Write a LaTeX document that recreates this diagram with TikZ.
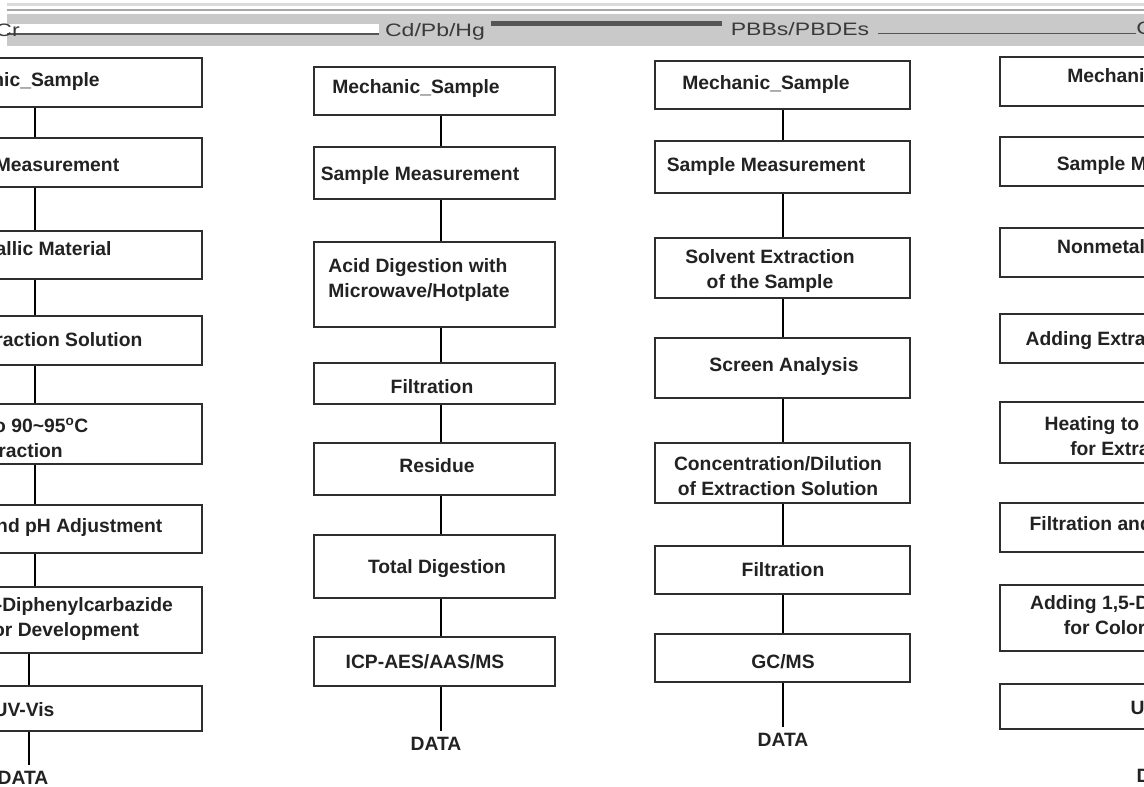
\documentclass[tikz,border=0pt]{standalone}
\usepackage{fontspec}
\setmainfont{Liberation Sans}
\usetikzlibrary{calc}
\definecolor{boxline}{HTML}{2E2E2E}
\definecolor{txtcol}{HTML}{222222}
\definecolor{hdrband}{HTML}{C9C9C9}
\definecolor{hdrlight}{HTML}{DADADA}
\definecolor{hdrdark}{HTML}{555555}
\definecolor{hdrtext}{HTML}{3A3A3A}
\tikzset{
  flowbox/.style={draw=boxline, line width=2pt, fill=white, inner sep=0pt},
  lbl/.style={font=\fontsize{19.3}{25}\selectfont\bfseries, text=txtcol, align=center, inner sep=0pt},
  datalbl/.style={lbl, inner ysep=6pt},
  hdrlbl/.style={font=\fontsize{18}{22}\selectfont, text=hdrtext, inner sep=0pt, xscale=1.28},
  conn/.style={draw=black, line width=1.6pt},
}
\newcommand\flowstep[5]{%
  \node[flowbox, minimum width={(#4)-(#2)}, minimum height={(#5)-(#3)}] (#1) at ({((#2)+(#4))/2},{((#3)+(#5))/2}) {};}
\begin{document}
\begin{tikzpicture}[x=1pt,y=-1pt]
\useasboundingbox (0,0) rectangle (1144,787);
\clip (0,0) rectangle (1144,787);
\fill[white] (0,0) rectangle (1144,787);

% ---------- header ----------
\fill[hdrlight] (7,3) rectangle (1144,6);
\fill[gray!70] (7,9) rectangle (1144,11);
\fill[hdrband] (7,14) rectangle (1144,46);
\fill[white] (7,24) rectangle (379,33);
\draw[hdrdark, line width=1.5pt] (7,34) -- (379,34);
\fill[hdrdark] (491,21) rectangle (722,26);
\draw[hdrdark, line width=1pt] (878,33) -- (1136,33);
\node[hdrlbl, anchor=east] (h1) at (20,30) {Cr};
\node[hdrlbl] (h2) at (435,32) {Cd/Pb/Hg};
\node[hdrlbl] (h3) at (800,29) {PBBs/PBDEs};
\node[hdrlbl, anchor=west] (h4) at (1136,28) {Cr};

% ---------- column 1 (metallic Cr) ----------
\flowstep{b11}{-133}{58}{202}{107}
\flowstep{b12}{-133}{138}{202}{187}
\flowstep{b13}{-133}{231}{202}{279}
\flowstep{b14}{-133}{316}{202}{365}
\flowstep{b15}{-133}{404}{202}{464}
\flowstep{b16}{-133}{505}{202}{553}
\flowstep{b17}{-133}{587}{202}{653}
\flowstep{b18}{-133}{686}{202}{731}
\node[lbl] (b11t) at (16,82) {Mechanic\_Sample};
\node[lbl] (b12t) at (20,167) {Sample Measurement};
\node[lbl] (b13t) at (37,249) {Metallic Material};
\node[lbl] (b14t) at (18,342) {Adding Extraction Solution};
\node[lbl] (b15t) at (0,438) {Heating to 90\textasciitilde 95\textsuperscript{o}C\\for Extraction};
\node[lbl] (b16t) at (30,528) {Filtration and pH Adjustment};
\node[lbl] (b17t) at (35,619) {Adding 1,5-Diphenylcarbazide\\for Color Development};
\node[lbl] (b18t) at (24,710) {UV-Vis};
\node[datalbl] (d1) at (23,778) {DATA};
\coordinate (k1) at (35,0);
\coordinate (k1b) at (29,0);
\draw[conn] (b11.south -| k1) -- (b12.north -| k1);
\draw[conn] (b12.south -| k1) -- (b13.north -| k1);
\draw[conn] (b13.south -| k1) -- (b14.north -| k1);
\draw[conn] (b14.south -| k1) -- (b15.north -| k1);
\draw[conn] (b15.south -| k1) -- (b16.north -| k1);
\draw[conn] (b16.south -| k1) -- (b17.north -| k1);
\draw[conn] (b17.south -| k1b) -- (b18.north -| k1b);
\draw[conn] (b18.south -| k1b) -- (d1.north -| k1b);

% ---------- column 2 (Cd/Pb/Hg) ----------
\flowstep{b21}{314}{67}{555}{115}
\flowstep{b22}{314}{147}{555}{199}
\flowstep{b23}{314}{242}{555}{327}
\flowstep{b24}{314}{363}{555}{404}
\flowstep{b25}{314}{443}{555}{495}
\flowstep{b26}{314}{535}{555}{598}
\flowstep{b27}{314}{637}{555}{686}
\node[lbl] (b21t) at (416,89) {Mechanic\_Sample};
\node[lbl] (b22t) at (420,176) {Sample Measurement};
\node[lbl, align=left] (b23t) at (419,280) {Acid Digestion with\\Microwave/Hotplate};
\node[lbl] (b24t) at (432,387) {Filtration};
\node[lbl] (b25t) at (437,466) {Residue};
\node[lbl] (b26t) at (437,569) {Total Digestion};
\node[lbl] (b27t) at (425,662) {ICP-AES/AAS/MS};
\node[datalbl] (d2) at (436,744) {DATA};
\coordinate (k2) at (441,0);
\draw[conn] (b21.south -| k2) -- (b22.north -| k2);
\draw[conn] (b22.south -| k2) -- (b23.north -| k2);
\draw[conn] (b23.south -| k2) -- (b24.north -| k2);
\draw[conn] (b24.south -| k2) -- (b25.north -| k2);
\draw[conn] (b25.south -| k2) -- (b26.north -| k2);
\draw[conn] (b26.south -| k2) -- (b27.north -| k2);
\draw[conn] (b27.south -| k2) -- (d2.north -| k2);

% ---------- column 3 (PBBs/PBDEs) ----------
\flowstep{b31}{655}{61}{910}{109}
\flowstep{b32}{655}{141}{910}{193}
\flowstep{b33}{655}{238}{910}{298}
\flowstep{b34}{655}{338}{910}{398}
\flowstep{b35}{655}{443}{910}{503}
\flowstep{b36}{655}{546}{910}{594}
\flowstep{b37}{655}{634}{910}{682}
\node[lbl] (b31t) at (766,85) {Mechanic\_Sample};
\node[lbl] (b32t) at (766,167) {Sample Measurement};
\node[lbl] (b33t) at (770,271) {Solvent Extraction\\of the Sample};
\node[lbl] (b34t) at (784,367) {Screen Analysis};
\node[lbl] (b35t) at (778,476) {Concentration/Dilution\\of Extraction Solution};
\node[lbl] (b36t) at (783,570) {Filtration};
\node[lbl] (b37t) at (783,662) {GC/MS};
\node[datalbl] (d3) at (783,740) {DATA};
\coordinate (k3) at (783,0);
\draw[conn] (b31.south -| k3) -- (b32.north -| k3);
\draw[conn] (b32.south -| k3) -- (b33.north -| k3);
\draw[conn] (b33.south -| k3) -- (b34.north -| k3);
\draw[conn] (b34.south -| k3) -- (b35.north -| k3);
\draw[conn] (b35.south -| k3) -- (b36.north -| k3);
\draw[conn] (b36.south -| k3) -- (b37.north -| k3);
\draw[conn] (b37.south -| k3) -- (d3.north -| k3);

% ---------- column 4 (nonmetallic Cr) ----------
\flowstep{b41}{1000}{57}{1335}{106}
\flowstep{b42}{1000}{137}{1335}{186}
\flowstep{b43}{1000}{228}{1335}{277}
\flowstep{b44}{1000}{314}{1335}{363}
\flowstep{b45}{1000}{402}{1335}{463}
\flowstep{b46}{1000}{503}{1335}{552}
\flowstep{b47}{1000}{585}{1335}{651}
\flowstep{b48}{1000}{684}{1335}{729}
\node[lbl] (b41t) at (1151,78) {Mechanic\_Sample};
\node[lbl] (b42t) at (1156,166) {Sample Measurement};
\node[lbl] (b43t) at (1151,247) {Nonmetallic Material};
\node[lbl] (b44t) at (1150,341) {Adding Extraction Solution};
\node[lbl] (b45t) at (1133,436) {Heating to 90\textasciitilde 95\textsuperscript{o}C\\for Extraction};
\node[lbl] (b46t) at (1162,526) {Filtration and pH Adjustment};
\node[lbl] (b47t) at (1168,617) {Adding 1,5-Diphenylcarbazide\\for Color Development};
\node[lbl] (b48t) at (1161,708) {UV-Vis};
\node[datalbl] (d4) at (1162,776) {DATA};
\end{tikzpicture}
\end{document}
